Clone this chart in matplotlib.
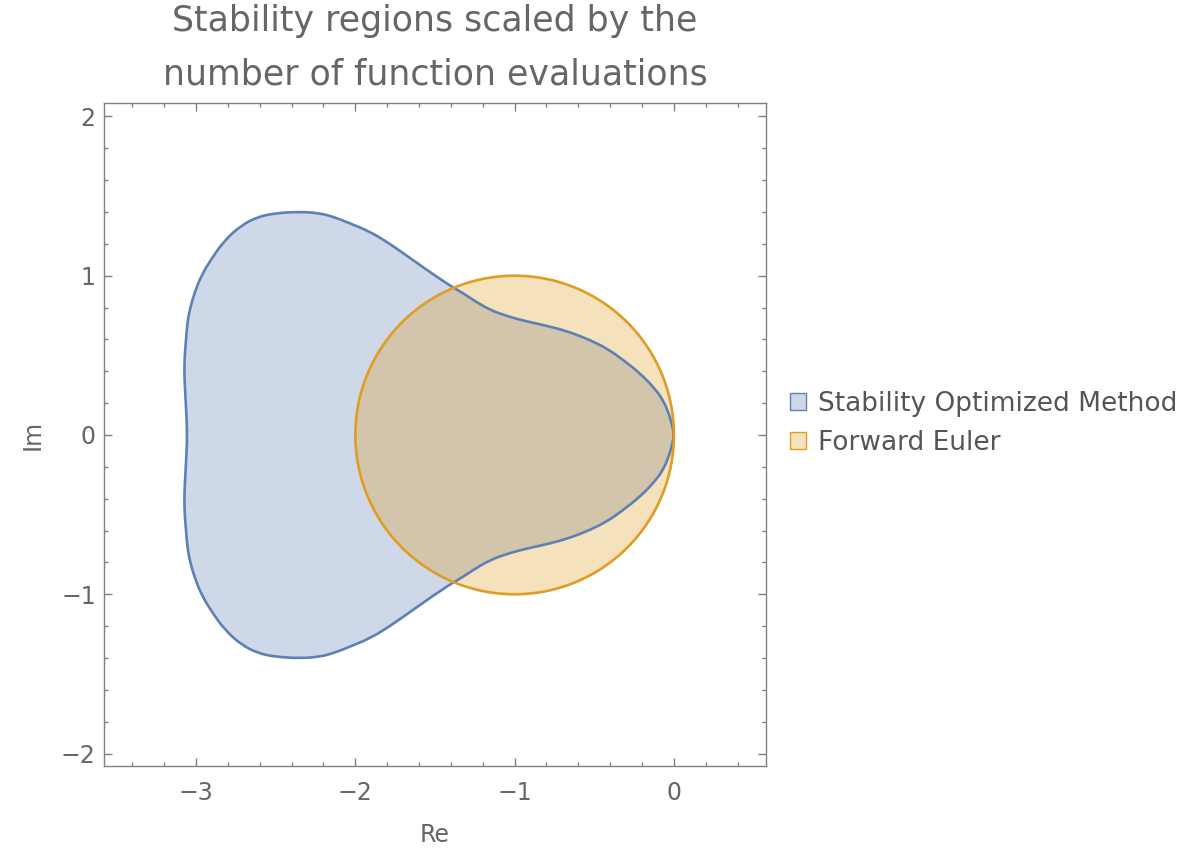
import numpy as np
import matplotlib
matplotlib.use('Agg')
import matplotlib.pyplot as plt
from matplotlib.patches import Circle, PathPatch, Patch
from matplotlib.path import Path
from matplotlib.ticker import MultipleLocator
from matplotlib.colors import to_rgba


# upper half of the stability optimized region boundary, from the origin round to the real axis
OPT_RE = [0.0, -0.009, -0.025, -0.067, -0.130, -0.213, -0.318, -0.422, -0.527, -0.632,
          -0.736, -0.841, -0.946, -1.050, -1.155, -1.260, -1.323, -1.385, -1.490, -1.594,
          -1.699, -1.803, -1.908, -2.034, -2.139, -2.222, -2.348, -2.505, -2.610, -2.714,
          -2.819, -2.902, -2.965, -3.007, -3.038, -3.055, -3.063, -3.070, -3.074, -3.070,
          -3.062, -3.055]
OPT_IM = [0.0, 0.050, 0.115, 0.220, 0.303, 0.387, 0.471, 0.544, 0.596, 0.638,
          0.670, 0.695, 0.718, 0.747, 0.785, 0.847, 0.890, 0.925, 0.994, 1.067,
          1.141, 1.213, 1.276, 1.329, 1.370, 1.392, 1.402, 1.392, 1.370, 1.318,
          1.224, 1.109, 1.004, 0.900, 0.795, 0.701, 0.596, 0.515, 0.408, 0.301,
          0.157, 0.0]

# forward euler: |1 + z| <= 1
EULER_CENTER = (-1.0, 0.0)
EULER_RADIUS = 1.0

LABELS = ['Stability Optimized Method', 'Forward Euler']
BLUE = '#5E81B5'
ORANGE = '#E19C24'
GRAY = '#666666'


def smooth_closed_path(pts):
    # quadratic bezier through the midpoints, each boundary point used as control point
    n = len(pts)
    mids = (pts + np.roll(pts, -1, axis=0)) / 2
    verts = [mids[-1]]
    codes = [Path.MOVETO]
    for i in range(n):
        verts += [pts[i], mids[i]]
        codes += [Path.CURVE3, Path.CURVE3]
    verts.append(mids[-1])
    codes.append(Path.CLOSEPOLY)
    return Path(np.array(verts), codes)


fig = plt.figure(figsize=(11.88, 8.5), dpi=100)
ax = fig.add_axes([0.0875, 0.0988, 0.5573, 0.78])

# close the region by mirroring the upper half (region is symmetric about the real axis)
re = np.array(OPT_RE)
im = np.array(OPT_IM)
xs = np.concatenate([re, re[::-1][1:-1]])
ys = np.concatenate([im, -im[::-1][1:-1]])
opt_path = smooth_closed_path(np.column_stack([xs, ys]))

ax.add_patch(PathPatch(opt_path, facecolor=to_rgba(BLUE, 0.3), edgecolor='none', zorder=1))
ax.add_patch(Circle(EULER_CENTER, EULER_RADIUS, facecolor=to_rgba(ORANGE, 0.3), edgecolor='none', zorder=2))
ax.add_patch(PathPatch(opt_path, facecolor='none', edgecolor=BLUE, lw=1.9,
                       joinstyle='round', zorder=3))
ax.add_patch(Circle(EULER_CENTER, EULER_RADIUS, facecolor='none', edgecolor=ORANGE, lw=1.9, zorder=4))

ax.set_xlim(-3.578, 0.578)
ax.set_ylim(-2.078, 2.084)
ax.set_aspect('equal')

ax.xaxis.set_major_locator(MultipleLocator(1))
ax.xaxis.set_minor_locator(MultipleLocator(0.2))
ax.yaxis.set_major_locator(MultipleLocator(1))
ax.yaxis.set_minor_locator(MultipleLocator(0.2))
ax.tick_params(which='both', direction='in', top=True, right=True, color='#808080', width=1)
ax.tick_params(which='major', length=6)
ax.tick_params(which='minor', length=3)
ax.tick_params(axis='x', which='major', pad=11, labelsize=17, labelcolor=GRAY)
ax.tick_params(axis='y', which='major', pad=6, labelsize=17, labelcolor=GRAY)
for s in ax.spines.values():
    s.set_color('#808080')
    s.set_linewidth(1)

ax.set_xlabel('Re', fontsize=17, color=GRAY, labelpad=13)
ax.set_ylabel('Im', fontsize=17, color=GRAY, labelpad=12)
ax.set_title('Stability regions scaled by the\nnumber of function evaluations',
             fontsize=25, color=GRAY, linespacing=1.75, pad=13)

handles = [Patch(facecolor=to_rgba(BLUE, 0.3), edgecolor=BLUE, lw=1),
           Patch(facecolor=to_rgba(ORANGE, 0.3), edgecolor=ORANGE, lw=1)]
leg = fig.legend(handles, LABELS, loc='center left', bbox_to_anchor=(0.654, 0.502),
                 frameon=False, fontsize=19, handlelength=0.6, handleheight=0.6,
                 handletextpad=0.45, labelspacing=0.5, borderpad=0)
for t in leg.get_texts():
    t.set_color('#555555')

fig.savefig('out.png', dpi=100)
